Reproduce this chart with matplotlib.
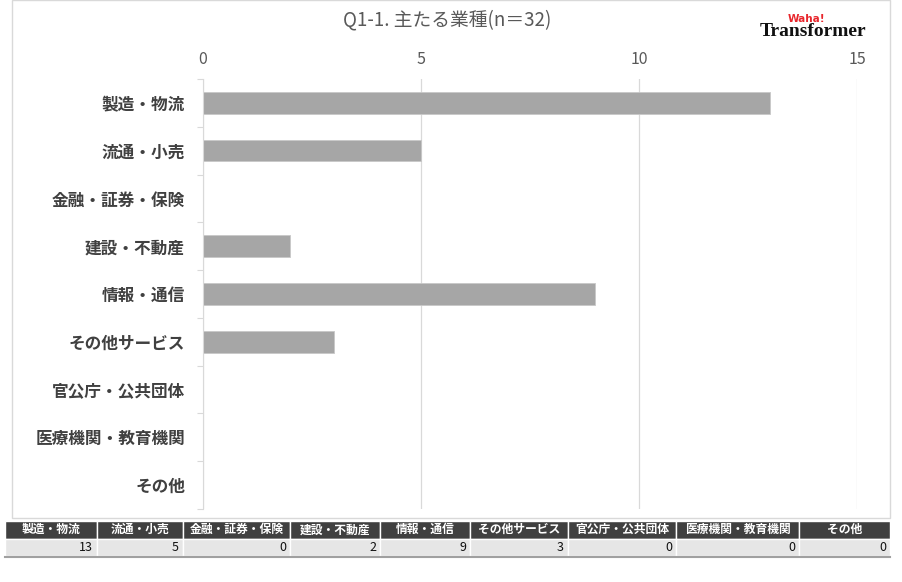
import matplotlib.pyplot as plt
from matplotlib.patches import Rectangle

plt.rcParams['font.family'] = ['Noto Sans CJK JP', 'DejaVu Sans']

# data
categories = ['製造・物流', '流通・小売', '金融・証券・保険', '建設・不動産', '情報・通信',
              'その他サービス', '官公庁・公共団体', '医療機関・教育機関', 'その他']
counts = [13, 5, 0, 2, 9, 3, 0, 0, 0]
xticks = [0, 5, 10, 15]
title = 'Q1-1. 主たる業種(n＝32)'

W, H = 902, 582
fig = plt.figure(figsize=(W / 100, H / 100), dpi=100)

def fbox(x0, y0, x1, y1):
    # pixel box (top-left origin) -> figure fraction rect
    return [x0 / W, 1 - y1 / H, (x1 - x0) / W, (y1 - y0) / H]

# outer chart frame
fig.patches.append(Rectangle((12 / W, 1 - 518 / H), 878 / W, 518 / H, transform=fig.transFigure,
                             fill=False, edgecolor='#d9d9d9', linewidth=1))

ax = fig.add_axes(fbox(203, 79, 857, 509))
y = range(len(categories))
ax.barh(y, counts, height=0.45, color='#a6a6a6', edgecolor='#c8c8c8', linewidth=0.6, zorder=2)
ax.set_xlim(0, 15)
ax.set_ylim(len(categories) - 0.5, -0.5)
ax.set_xticks(xticks)
ax.xaxis.tick_top()
ax.tick_params(axis='x', length=0, pad=8, labelsize=11.5, labelcolor='#595959')
ax.set_yticks(list(y))
ax.set_yticklabels(categories, fontsize=12, fontweight='bold', color='#404040')
ax.set_yticks([i + 0.5 for i in range(-1, len(categories))], minor=True)
ax.tick_params(axis='y', which='major', length=0, pad=13)
ax.tick_params(axis='y', which='minor', length=4, color='#d9d9d9', width=0.8)
ax.grid(axis='x', color='#d9d9d9', linewidth=0.9, zorder=0)
for s in ['top', 'right', 'bottom']:
    ax.spines[s].set_visible(False)
ax.spines['left'].set_color('#d9d9d9')

fig.text(447 / W, 1 - 20 / H, title, ha='center', va='center', fontsize=13.5, color='#595959')

# logo
fig.text(866 / W, 1 - 32 / H, 'Transformer', ha='right', va='center', fontsize=14,
         fontweight='bold', family='Liberation Serif', color='#111111')
fig.text(788 / W, 1 - 19 / H, 'Waha!', ha='left', va='center', fontsize=7.5,
         fontweight='bold', family='DejaVu Sans', color='#e8262c')

# data table
bounds = [5, 97, 183, 290, 380, 470, 568, 676, 799, 890]
tax = fig.add_axes(fbox(5, 521, 890, 556))
tax.set_xlim(bounds[0], bounds[-1])
tax.set_ylim(2, 0)
tax.axis('off')
for i, (lab, v) in enumerate(zip(categories, counts)):
    x0, x1 = bounds[i], bounds[i + 1]
    tax.add_patch(Rectangle((x0, 0), x1 - x0, 1, facecolor='#404040', edgecolor='white', linewidth=1))
    tax.add_patch(Rectangle((x0, 1), x1 - x0, 1, facecolor='#e6e6e6', edgecolor='white', linewidth=1))
    tax.text((x0 + x1) / 2, 0.5, lab, ha='center', va='center', color='white',
             fontsize=8.5, fontweight='bold')
    tax.text(x1 - 4, 1.5, str(v), ha='right', va='center', color='#111111', fontsize=9)
tax.plot([bounds[0], bounds[-1]], [2.05, 2.05], color='#a0a0a0', linewidth=1.5, clip_on=False)

fig.savefig('out.png', dpi=100)
